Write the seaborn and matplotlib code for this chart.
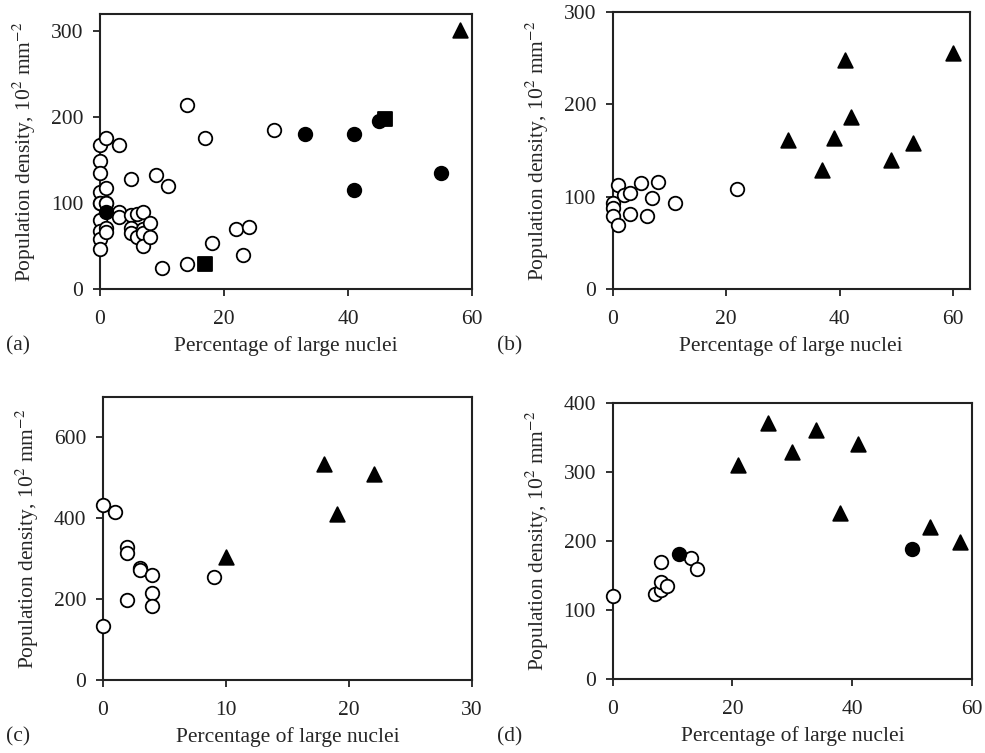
import numpy as np
import pandas as pd
import seaborn as sns
import matplotlib.pyplot as plt

# panel (a)
a_open_x = [0, 0, 0, 0, 0, 0, 0, 0, 0, 0, 1, 1, 1, 1, 1, 1, 3, 3, 3, 5, 5, 5, 5, 6, 6, 7, 7, 7, 7, 8, 8,
            9, 10, 11, 14, 14, 17, 18, 22, 23, 24, 28]
a_open_y = [167, 149, 135, 113, 100, 80, 67, 58, 46, 100, 176, 118, 100, 71, 66, 100, 168, 90, 84, 128, 86, 71, 65, 87, 61, 90, 70, 65, 50, 77, 60,
            133, 25, 120, 214, 29, 176, 53, 70, 40, 72, 185]
a_fill_x = [1, 33, 41, 41, 45, 55]
a_fill_y = [90, 180, 180, 115, 195, 135]
a_sq_x = [17, 46]
a_sq_y = [29, 198]
a_tri_x = [58]
a_tri_y = [301]

# panel (b)
b_open_x = [0, 0, 0, 1, 1, 2, 3, 3, 5, 6, 7, 8, 11, 22]
b_open_y = [93, 88, 79, 113, 69, 102, 104, 81, 115, 79, 99, 116, 93, 108]
b_tri_x = [31, 37, 39, 41, 42, 49, 53, 60]
b_tri_y = [161, 129, 164, 248, 186, 140, 158, 256]

# panel (c)
c_open_x = [0, 0, 1, 2, 2, 2, 3, 3, 4, 4, 4, 9]
c_open_y = [434, 133, 416, 328, 314, 198, 277, 272, 259, 216, 184, 254]
c_tri_x = [10, 18, 19, 22]
c_tri_y = [304, 535, 410, 510]

# panel (d)
d_open_x = [0, 7, 8, 8, 9, 8, 13, 14]
d_open_y = [120, 123, 129, 140, 135, 170, 175, 160]
d_fill_x = [11, 50]
d_fill_y = [181, 189]
d_tri_x = [21, 26, 30, 34, 38, 41, 53, 58]
d_tri_y = [310, 371, 329, 360, 240, 340, 220, 199]

sns.set_theme(style="ticks")
plt.rcParams['font.family'] = ['Liberation Serif', 'DejaVu Serif']
plt.rcParams['mathtext.fontset'] = 'stix'

fig = plt.figure(figsize=(9.85, 7.53), dpi=100)

ylab = r"Population density, 10$^{2}$ mm$^{-2}$"
fs = 15.5


def draw(ax, groups, xlim, ylim, xticks, yticks):
    for gx, gy, mk, face, sz in groups:
        df = pd.DataFrame({'x': gx, 'y': gy})
        sns.scatterplot(data=df, x='x', y='y', ax=ax, marker=mk, s=sz,
                        facecolor=face, edgecolor='black', linewidth=1.3,
                        clip_on=False, zorder=3)
    ax.set_xlim(*xlim)
    ax.set_ylim(*ylim)
    ax.set_xticks(xticks)
    ax.set_yticks(yticks)
    ax.tick_params(direction='out', length=5, width=1.3, labelsize=fs, colors='#222222')
    ax.tick_params(axis='x', pad=10)
    ax.tick_params(axis='y', pad=7)
    for sp in ax.spines.values():
        sp.set_linewidth(1.5)
        sp.set_color('#222222')
    ax.set_xlabel("Percentage of large nuclei", fontsize=fs, labelpad=5)
    ax.set_ylabel(ylab, fontsize=fs, labelpad=9)


ax_a = fig.add_axes([0.1015, 0.6162, 0.3777, 0.3652])
draw(ax_a, [(a_open_x, a_open_y, 'o', 'white', 95),
            (a_fill_x, a_fill_y, 'o', 'black', 95),
            (a_sq_x, a_sq_y, 's', 'black', 95),
            (a_tri_x, a_tri_y, '^', 'black', 110)],
     (0, 60), (0, 320), [0, 20, 40, 60], [0, 100, 200, 300])

ax_b = fig.add_axes([0.622, 0.6162, 0.3627, 0.3679])
draw(ax_b, [(b_open_x, b_open_y, 'o', 'white', 95),
            (b_tri_x, b_tri_y, '^', 'black', 110)],
     (0, 63), (0, 300), [0, 20, 40, 60], [0, 100, 200, 300])

ax_c = fig.add_axes([0.1043, 0.0969, 0.3749, 0.3758])
draw(ax_c, [(c_open_x, c_open_y, 'o', 'white', 95),
            (c_tri_x, c_tri_y, '^', 'black', 110)],
     (0, 30), (0, 700), [0, 10, 20, 30], [0, 200, 400, 600])

ax_d = fig.add_axes([0.622, 0.0979, 0.3648, 0.3673])
draw(ax_d, [(d_open_x, d_open_y, 'o', 'white', 95),
            (d_fill_x, d_fill_y, 'o', 'black', 95),
            (d_tri_x, d_tri_y, '^', 'black', 110)],
     (0, 60), (0, 400), [0, 20, 40, 60], [0, 100, 200, 300, 400])

for lab, x, y in [("(a)", 0.006, 0.541), ("(b)", 0.505, 0.541),
                  ("(c)", 0.006, 0.021), ("(d)", 0.505, 0.021)]:
    fig.text(x, y, lab, fontsize=fs, ha='left', va='center')

fig.savefig("out.png", dpi=100)
